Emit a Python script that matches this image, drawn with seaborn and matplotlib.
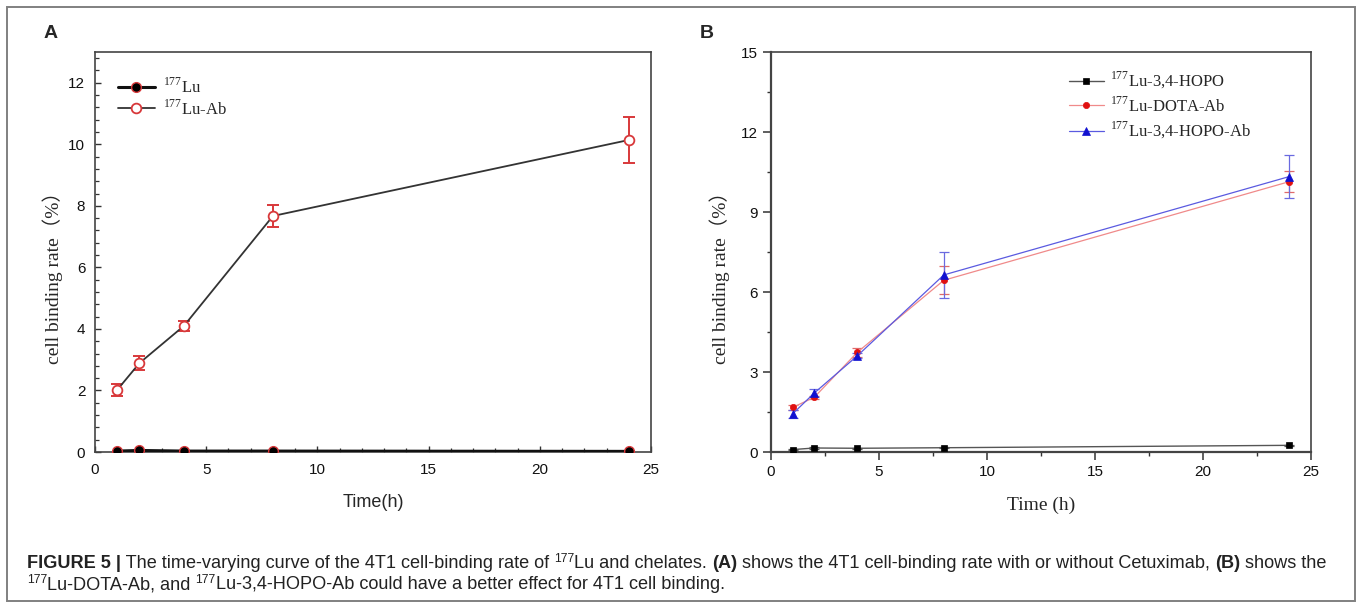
import numpy as np
import pandas as pd
import matplotlib
matplotlib.use("Agg")
import matplotlib.pyplot as plt
import seaborn as sns
from matplotlib.ticker import MultipleLocator
from matplotlib.patches import Rectangle

# Sampling times (h)
time_h = [1, 2, 4, 8, 24]

# Panel A: free 177Lu vs antibody-bound 177Lu (mean, SD)
lu_free = [0.03, 0.05, 0.03, 0.03, 0.02]
lu_free_sd = [0.02, 0.02, 0.01, 0.01, 0.01]
lu_ab = [2.02, 2.89, 4.10, 7.67, 10.14]
lu_ab_sd = [0.19, 0.24, 0.17, 0.36, 0.74]

# Panel B: chelates (mean, SD)
hopo = [0.09, 0.15, 0.14, 0.16, 0.25]
hopo_sd = [0.03, 0.03, 0.02, 0.02, 0.03]
dota_ab = [1.67, 2.05, 3.74, 6.44, 10.14]
dota_ab_sd = [0.08, 0.06, 0.17, 0.52, 0.38]
hopo_ab = [1.43, 2.21, 3.61, 6.64, 10.33]
hopo_ab_sd = [0.15, 0.15, 0.10, 0.85, 0.80]

labels_a = [r"$^{\mathregular{177}}$Lu", r"$^{\mathregular{177}}$Lu-Ab"]
labels_b = [r"$^{\mathregular{177}}$Lu-3,4-HOPO",
            r"$^{\mathregular{177}}$Lu-DOTA-Ab",
            r"$^{\mathregular{177}}$Lu-3,4-HOPO-Ab"]

sns.set_theme(style="ticks")
plt.rcParams["font.family"] = ["Liberation Sans", "DejaVu Sans"]
plt.rcParams["axes.edgecolor"] = "#444444"
plt.rcParams["xtick.color"] = "#333333"
plt.rcParams["ytick.color"] = "#333333"
plt.rcParams["xtick.labelcolor"] = "#111111"
plt.rcParams["ytick.labelcolor"] = "#111111"

W, H = 1358, 608
fig = plt.figure(figsize=(W / 100, H / 100), dpi=100)
fig.patch.set_facecolor("white")

def px_axes(x0, y0, x1, y1):
    return fig.add_axes([x0 / W, 1 - y1 / H, (x1 - x0) / W, (y1 - y0) / H])

serif = ["Liberation Serif", "Noto Sans CJK SC"]
red = "#d8383a"

# ---------------- Panel A ----------------
axA = px_axes(95, 52, 651, 452)
axA.errorbar(time_h, lu_ab, yerr=lu_ab_sd, fmt="none", ecolor=red,
             elinewidth=1.4, capsize=4.5, capthick=1.4, zorder=1.5)
sns.lineplot(x=time_h, y=lu_ab, ax=axA, color="#333333", linewidth=1.3,
             marker="o", markersize=7, markerfacecolor="white",
             markeredgecolor=red, markeredgewidth=1.3, label=labels_a[1],
             zorder=3)
sns.lineplot(x=time_h, y=lu_free, ax=axA, color="#111111", linewidth=2.2,
             marker="o", markersize=7, markerfacecolor="black",
             markeredgecolor=red, markeredgewidth=1.0, label=labels_a[0],
             zorder=4)
axA.set_xlim(0, 25)
axA.set_ylim(0, 13)
axA.xaxis.set_major_locator(MultipleLocator(5))
axA.xaxis.set_minor_locator(MultipleLocator(1))
axA.yaxis.set_major_locator(MultipleLocator(2))
axA.yaxis.set_minor_locator(MultipleLocator(0.4))
axA.set_yticks(range(0, 13, 2))
axA.tick_params(which="major", direction="in", length=4, width=1.0,
                labelsize=11, pad=7)
axA.tick_params(which="minor", direction="in", length=2.6, width=0.9)
axA.tick_params(axis="x", which="major", pad=8)
for s in axA.spines.values():
    s.set_linewidth(1.2)
axA.set_xlabel("Time(h)", fontsize=13)
axA.xaxis.set_label_coords(0.5, -0.105)
axA.set_ylabel("cell binding rate\uff08%\uff09", fontsize=14, family=serif)
axA.yaxis.set_label_coords(-0.057, 0.4475)
handles, labs = axA.get_legend_handles_labels()
order = [labs.index(l) for l in labels_a]
axA.legend([handles[i] for i in order], [labs[i] for i in order],
           loc="upper left", bbox_to_anchor=((118 - 95) / 556, 0.937),
           frameon=False, borderpad=0, borderaxespad=0, handlelength=2.2,
           handletextpad=0.5, labelspacing=0.15,
           prop={"family": "Liberation Serif", "size": 12})

# ---------------- Panel B ----------------
axB = px_axes(771, 52, 1311, 452)
series_b = [
    (hopo, hopo_sd, "#555555", "black", "s", 4.5, 1.0, "#555555"),
    (dota_ab, dota_ab_sd, "#f08a8a", "#e01010", "o", 4.5, 0.9, "#e06a6a"),
    (hopo_ab, hopo_ab_sd, "#5a5ae0", "#1010d0", "^", 6, 0.9, "#6a6ae0"),
]
for (vals, sd, lc, mc, mk, ms, lw, ec), lab in zip(series_b, labels_b):
    axB.errorbar(time_h, vals, yerr=sd, fmt="none", ecolor=ec,
                 elinewidth=0.9, capsize=3.5, capthick=0.9, zorder=1.5)
    sns.lineplot(x=time_h, y=vals, ax=axB, color=lc, linewidth=lw,
                 marker=mk, markersize=ms, markerfacecolor=mc,
                 markeredgecolor=mc, markeredgewidth=0.5, label=lab,
                 zorder=3)
axB.set_xlim(0, 25)
axB.set_ylim(0, 15)
axB.xaxis.set_major_locator(MultipleLocator(5))
axB.xaxis.set_minor_locator(MultipleLocator(2.5))
axB.yaxis.set_major_locator(MultipleLocator(3))
axB.yaxis.set_minor_locator(MultipleLocator(1.5))
axB.tick_params(which="major", direction="out", length=5.5, width=1.1,
                labelsize=11, pad=4)
axB.tick_params(which="minor", direction="out", length=3, width=1.0)
for s in axB.spines.values():
    s.set_linewidth(1.2)
axB.spines["left"].set_linewidth(1.6)
axB.spines["bottom"].set_linewidth(1.6)
axB.set_xlabel("Time (h)", fontsize=14, family=serif)
axB.xaxis.set_label_coords(0.5, -0.112)
axB.set_ylabel("cell binding rate\uff08%\uff09", fontsize=14, family=serif)
axB.yaxis.set_label_coords(-0.076, 0.4475)
axB.legend(loc="upper left", bbox_to_anchor=((1069 - 771) / 540, 0.955),
           frameon=False, borderpad=0, borderaxespad=0, handlelength=2.1,
           handletextpad=0.35, labelspacing=0.3,
           prop={"family": "Liberation Serif", "size": 12})

# Panel letters
fig.text(44 / W, 1 - 33 / H, "A", fontsize=14, fontweight="bold",
         va="center", ha="left")
fig.text(700 / W, 1 - 33 / H, "B", fontsize=14, fontweight="bold",
         va="center", ha="left")

# Outer frame
fig.patches.append(Rectangle((7 / W, 1 - 601 / H), 1348 / W, 594 / H,
                             transform=fig.transFigure, fill=False,
                             edgecolor="#808080", linewidth=1.4))

# Caption with bold runs and superscripts
renderer = fig.canvas.get_renderer()
cap_size = 13.05

def text_width(s, size, weight):
    probe = fig.text(0, 0, s + "|", fontsize=size, fontweight=weight)
    bar = fig.text(0, 0, "|", fontsize=size, fontweight=weight)
    w = (probe.get_window_extent(renderer).width
         - bar.get_window_extent(renderer).width)
    probe.remove()
    bar.remove()
    return w

def caption_line(x, y, parts):
    for s, weight, sup in parts:
        size = cap_size * 0.68 if sup else cap_size
        yy = y - (6 if sup else 0)
        fig.text(x / W, 1 - yy / H, s, fontsize=size, fontweight=weight,
                 va="baseline", ha="left", color="#222222")
        x += text_width(s, size, weight)

caption_line(27, 568, [
    ("FIGURE 5 |", "bold", False),
    (" The time-varying curve of the 4T1 cell-binding rate of ", "normal", False),
    ("177", "normal", True),
    ("Lu and chelates. ", "normal", False),
    ("(A)", "bold", False),
    (" shows the 4T1 cell-binding rate with or without Cetuximab, ", "normal", False),
    ("(B)", "bold", False),
    (" shows the", "normal", False),
])
caption_line(27, 589, [
    ("177", "normal", True),
    ("Lu-DOTA-Ab, and ", "normal", False),
    ("177", "normal", True),
    ("Lu-3,4-HOPO-Ab could have a better effect for 4T1 cell binding.", "normal", False),
])

fig.savefig("out.png", dpi=100, facecolor="white")
